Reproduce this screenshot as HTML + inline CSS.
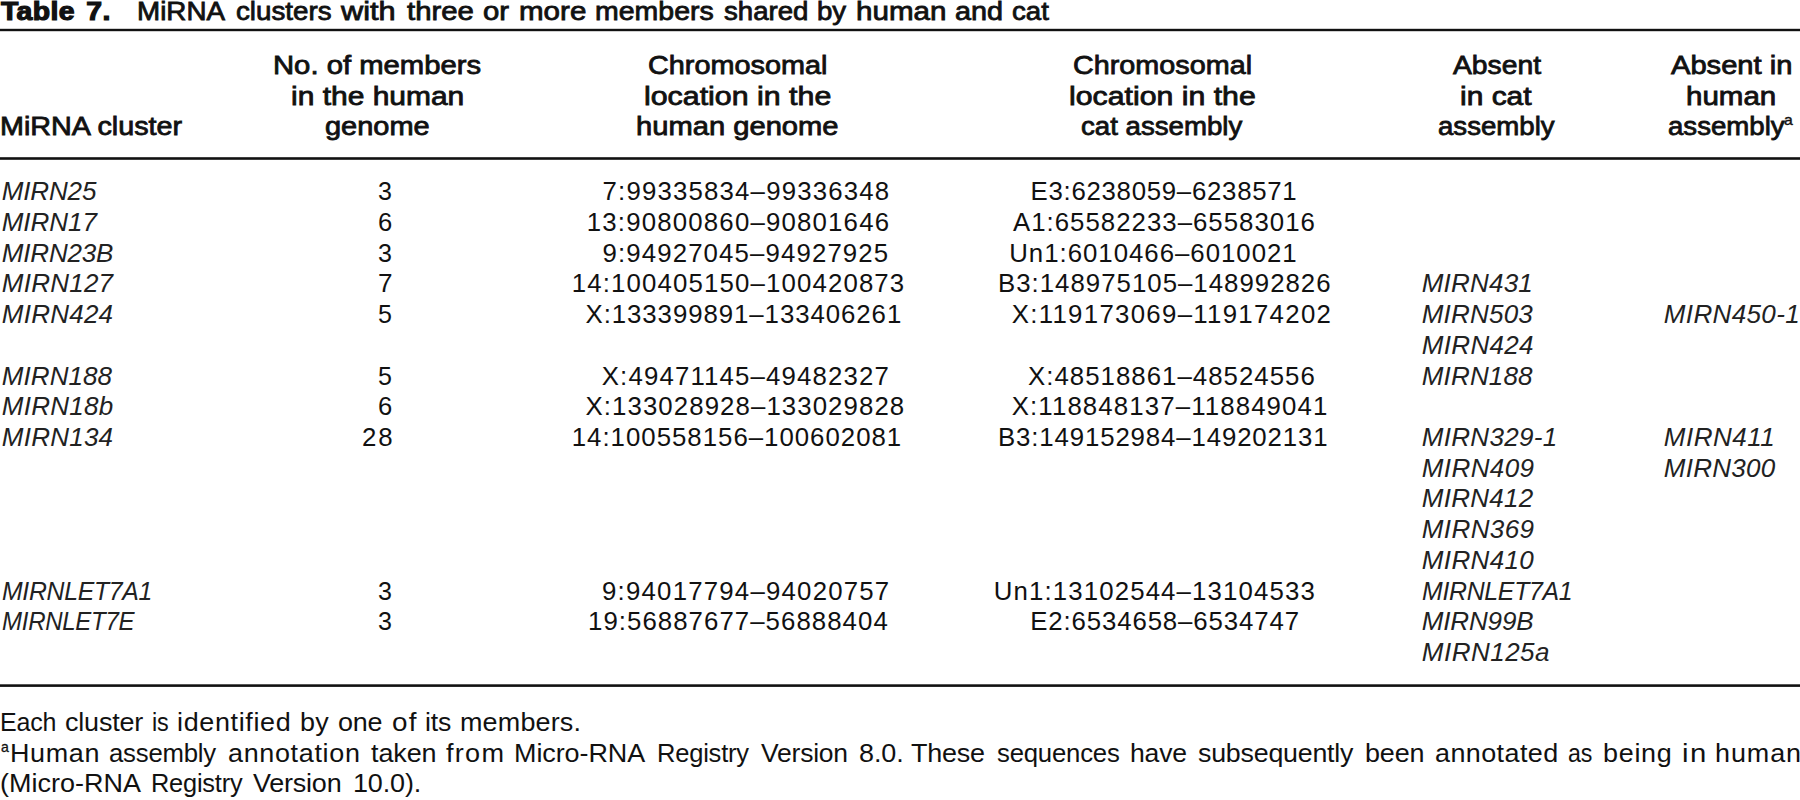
<!DOCTYPE html>
<html lang="en"><head><meta charset="utf-8"><title>Table 7</title><style>
html,body{margin:0;padding:0;background:#fff;}
body{width:1800px;height:800px;position:relative;overflow:hidden;}
.t{position:absolute;white-space:pre;font-family:"Liberation Sans",sans-serif;font-size:25.8px;line-height:30px;color:#111;transform-origin:0 0;}
.r{font-weight:400}.i{font-style:italic;font-size:26px;color:#222}.b{font-weight:400;-webkit-text-stroke:0.8px #111}.k{font-weight:700;-webkit-text-stroke:1.2px #111}
.sb{font-weight:400;-webkit-text-stroke:0.4px #111;font-size:15px}.sr{-webkit-text-stroke:0.3px #111;font-size:15px}
svg{position:absolute;left:0;top:0}
</style></head>
<body>
<svg width="1800" height="800" viewBox="0 0 1800 800"><rect x="0" y="28.80" width="1800" height="2.40" fill="#111"/><rect x="0" y="157.20" width="1800" height="2.60" fill="#111"/><rect x="0" y="684.30" width="1800" height="2.60" fill="#111"/></svg>
<span class="t k" style="left:0.57px;top:-4px;letter-spacing:0.328px;word-spacing:3.00px;transform:translateY(-0.40px) scaleX(1.1000)">Table 7.</span>
<span class="t b" style="left:137.42px;top:-4px;transform:translateY(-0.40px) scaleX(1.0770)">MiRNA</span>
<span class="t b" style="left:235.89px;top:-4px;transform:translateY(-0.40px) scaleX(1.0743)">clusters</span>
<span class="t b" style="left:341.47px;top:-4px;transform:translateY(-0.40px) scaleX(1.1900)">with</span>
<span class="t b" style="left:406.70px;top:-4px;transform:translateY(-0.40px) scaleX(1.1379)">three</span>
<span class="t b" style="left:483.15px;top:-4px;transform:translateY(-0.40px) scaleX(1.1371)">or</span>
<span class="t b" style="left:518.57px;top:-4px;transform:translateY(-0.40px) scaleX(1.1454)">more</span>
<span class="t b" style="left:594.62px;top:-4px;transform:translateY(-0.40px) scaleX(1.1045)">members</span>
<span class="t b" style="left:724.13px;top:-4px;transform:translateY(-0.40px) scaleX(1.0706)">shared</span>
<span class="t b" style="left:817.03px;top:-4px;transform:translateY(-0.40px) scaleX(1.0700)">by</span>
<span class="t b" style="left:856.08px;top:-4px;transform:translateY(-0.40px) scaleX(1.1461)">human</span>
<span class="t b" style="left:955.16px;top:-4px;transform:translateY(-0.40px) scaleX(1.1171)">and</span>
<span class="t b" style="left:1012.49px;top:-4px;transform:translateY(-0.40px) scaleX(1.0700)">cat</span>
<span class="t b" style="left:0.05px;top:111px;transform:translateY(0.20px) scaleX(1.1146)">MiRNA cluster</span>
<span class="t b" style="left:272.52px;top:50px;transform:translateY(0.10px) scaleX(1.1338)">No. of members</span>
<span class="t b" style="left:290.55px;top:81px;transform:translateY(-0.25px) scaleX(1.1618)">in the human</span>
<span class="t b" style="left:324.91px;top:111px;transform:translateY(0.20px) scaleX(1.1226)">genome</span>
<span class="t b" style="left:648.38px;top:50px;transform:translateY(0.10px) scaleX(1.1169)">Chromosomal</span>
<span class="t b" style="left:644.03px;top:81px;transform:translateY(-0.25px) scaleX(1.1765)">location in the</span>
<span class="t b" style="left:636.31px;top:111px;transform:translateY(0.20px) scaleX(1.1299)">human genome</span>
<span class="t b" style="left:1073.13px;top:50px;transform:translateY(0.10px) scaleX(1.1153)">Chromosomal</span>
<span class="t b" style="left:1068.53px;top:81px;transform:translateY(-0.25px) scaleX(1.1733)">location in the</span>
<span class="t b" style="left:1081.20px;top:111px;transform:translateY(0.20px) scaleX(1.0715)">cat assembly</span>
<span class="t b" style="left:1453.05px;top:50px;transform:translateY(0.10px) scaleX(1.0957)">Absent</span>
<span class="t b" style="left:1460.30px;top:81px;transform:translateY(-0.25px) scaleX(1.1612)">in cat</span>
<span class="t b" style="left:1437.64px;top:111px;transform:translateY(0.20px) scaleX(1.0700)">assembly</span>
<span class="t b" style="left:1671.31px;top:50px;transform:translateY(0.10px) scaleX(1.1288)">Absent in</span>
<span class="t b" style="left:1686.28px;top:81px;transform:translateY(-0.25px) scaleX(1.1447)">human</span>
<span class="t b" style="left:1667.52px;top:111px;transform:translateY(0.20px) scaleX(1.0700)">assembly</span>
<span class="t i" style="left:1.75px;top:176px;letter-spacing:-0.150px;transform:translateY(0.20px)">MIRN25</span>
<span class="t i" style="left:1.75px;top:207px;letter-spacing:-0.050px;transform:translateY(-0.08px)">MIRN17</span>
<span class="t i" style="left:1.75px;top:238px;letter-spacing:-0.167px;transform:translateY(-0.36px)">MIRN23B</span>
<span class="t i" style="left:1.75px;top:268px;letter-spacing:0.250px;transform:translateY(0.36px)">MIRN127</span>
<span class="t i" style="left:1.75px;top:299px;letter-spacing:0.250px;transform:translateY(0.08px)">MIRN424</span>
<span class="t i" style="left:1.75px;top:361px;letter-spacing:0.083px;transform:translateY(-0.48px)">MIRN188</span>
<span class="t i" style="left:1.75px;top:391px;letter-spacing:0.292px;transform:translateY(0.24px)">MIRN18b</span>
<span class="t i" style="left:1.75px;top:422px;letter-spacing:0.250px;transform:translateY(-0.04px)">MIRN134</span>
<span class="t i" style="left:1.79px;top:576px;letter-spacing:-0.300px;transform:translateY(-0.44px) scaleX(0.9528)">MIRNLET7A1</span>
<span class="t i" style="left:1.81px;top:606px;letter-spacing:-0.300px;transform:translateY(0.28px) scaleX(0.9240)">MIRNLET7E</span>
<span class="t r" style="left:378.33px;top:176px;transform:translateY(0.20px) scaleX(0.9714)">3</span>
<span class="t r" style="left:378.06px;top:207px;transform:translateY(-0.08px) scaleX(0.9917)">6</span>
<span class="t r" style="left:378.33px;top:238px;transform:translateY(-0.36px) scaleX(0.9714)">3</span>
<span class="t r" style="left:378.03px;top:268px;transform:translateY(0.36px) scaleX(1.0128)">7</span>
<span class="t r" style="left:378.33px;top:299px;transform:translateY(0.08px) scaleX(0.9714)">5</span>
<span class="t r" style="left:378.33px;top:361px;transform:translateY(-0.48px) scaleX(0.9714)">5</span>
<span class="t r" style="left:378.06px;top:391px;transform:translateY(0.24px) scaleX(0.9917)">6</span>
<span class="t r" style="left:361.75px;top:422px;letter-spacing:1.900px;transform:translateY(-0.04px) scaleX(1.0018)">28</span>
<span class="t r" style="left:378.33px;top:576px;transform:translateY(-0.44px) scaleX(0.9714)">3</span>
<span class="t r" style="left:378.33px;top:606px;transform:translateY(0.28px) scaleX(0.9714)">3</span>
<span class="t r" style="left:602.50px;top:176px;letter-spacing:1.181px;transform:translateY(0.20px)">7:99335834–99336348</span>
<span class="t r" style="left:586.75px;top:207px;letter-spacing:1.184px;transform:translateY(-0.08px)">13:90800860–90801646</span>
<span class="t r" style="left:602.50px;top:238px;letter-spacing:1.125px;transform:translateY(-0.36px)">9:94927045–94927925</span>
<span class="t r" style="left:571.75px;top:268px;letter-spacing:1.143px;transform:translateY(0.36px)">14:100405150–100420873</span>
<span class="t r" style="left:585.50px;top:299px;letter-spacing:0.938px;transform:translateY(0.08px)">X:133399891–133406261</span>
<span class="t r" style="left:601.75px;top:361px;letter-spacing:1.153px;transform:translateY(-0.48px)">X:49471145–49482327</span>
<span class="t r" style="left:585.50px;top:391px;letter-spacing:1.087px;transform:translateY(0.24px)">X:133028928–133029828</span>
<span class="t r" style="left:571.75px;top:422px;letter-spacing:1.000px;transform:translateY(-0.04px)">14:100558156–100602081</span>
<span class="t r" style="left:602.05px;top:576px;letter-spacing:1.208px;transform:translateY(-0.44px)">9:94017794–94020757</span>
<span class="t r" style="left:588.00px;top:606px;letter-spacing:1.053px;transform:translateY(0.28px)">19:56887677–56888404</span>
<span class="t r" style="left:1030.50px;top:176px;letter-spacing:0.721px;transform:translateY(0.20px)">E3:6238059–6238571</span>
<span class="t r" style="left:1013.00px;top:207px;letter-spacing:1.013px;transform:translateY(-0.08px)">A1:65582233–65583016</span>
<span class="t r" style="left:1009.25px;top:238px;letter-spacing:0.986px;transform:translateY(-0.36px)">Un1:6010466–6010021</span>
<span class="t r" style="left:998.00px;top:268px;letter-spacing:1.012px;transform:translateY(0.36px)">B3:148975105–148992826</span>
<span class="t r" style="left:1011.75px;top:299px;letter-spacing:1.300px;transform:translateY(0.08px)">X:119173069–119174202</span>
<span class="t r" style="left:1028.00px;top:361px;letter-spacing:1.028px;transform:translateY(-0.48px)">X:48518861–48524556</span>
<span class="t r" style="left:1011.75px;top:391px;letter-spacing:1.125px;transform:translateY(0.24px)">X:118848137–118849041</span>
<span class="t r" style="left:998.00px;top:422px;letter-spacing:0.869px;transform:translateY(-0.04px)">B3:149152984–149202131</span>
<span class="t r" style="left:993.80px;top:576px;letter-spacing:1.127px;transform:translateY(-0.44px)">Un1:13102544–13104533</span>
<span class="t r" style="left:1030.20px;top:606px;letter-spacing:0.876px;transform:translateY(0.28px)">E2:6534658–6534747</span>
<span class="t i" style="left:1421.75px;top:268px;letter-spacing:0.208px;transform:translateY(0.36px)">MIRN431</span>
<span class="t i" style="left:1421.75px;top:299px;letter-spacing:0.208px;transform:translateY(0.08px)">MIRN503</span>
<span class="t i" style="left:1421.75px;top:330px;letter-spacing:0.333px;transform:translateY(-0.20px)">MIRN424</span>
<span class="t i" style="left:1421.75px;top:361px;letter-spacing:0.167px;transform:translateY(-0.48px)">MIRN188</span>
<span class="t i" style="left:1421.75px;top:422px;letter-spacing:0.312px;transform:translateY(-0.04px)">MIRN329-1</span>
<span class="t i" style="left:1421.75px;top:453px;letter-spacing:0.417px;transform:translateY(-0.32px)">MIRN409</span>
<span class="t i" style="left:1421.75px;top:483px;letter-spacing:0.292px;transform:translateY(0.40px)">MIRN412</span>
<span class="t i" style="left:1421.75px;top:514px;letter-spacing:0.417px;transform:translateY(0.12px)">MIRN369</span>
<span class="t i" style="left:1421.75px;top:545px;letter-spacing:0.375px;transform:translateY(-0.16px)">MIRN410</span>
<span class="t i" style="left:1421.78px;top:576px;letter-spacing:-0.300px;transform:translateY(-0.44px) scaleX(0.9554)">MIRNLET7A1</span>
<span class="t i" style="left:1421.75px;top:606px;letter-spacing:-0.150px;transform:translateY(0.28px)">MIRN99B</span>
<span class="t i" style="left:1421.75px;top:637px;letter-spacing:0.500px;">MIRN125a</span>
<span class="t i" style="left:1663.75px;top:299px;letter-spacing:0.375px;transform:translateY(0.08px)">MIRN450-1</span>
<span class="t i" style="left:1663.75px;top:422px;letter-spacing:0.500px;transform:translateY(-0.04px)">MIRN411</span>
<span class="t i" style="left:1663.75px;top:453px;letter-spacing:0.292px;transform:translateY(-0.32px)">MIRN300</span>
<span class="t r" style="left:0.36px;top:707px;letter-spacing:-0.200px;transform:translateY(-0.30px) scaleX(0.9688)">Each</span>
<span class="t r" style="left:64.95px;top:707px;letter-spacing:-0.184px;transform:translateY(-0.30px) scaleX(1.0450)">cluster</span>
<span class="t r" style="left:152.42px;top:707px;letter-spacing:-0.200px;transform:translateY(-0.30px) scaleX(0.9051)">is</span>
<span class="t r" style="left:177.47px;top:707px;letter-spacing:0.613px;transform:translateY(-0.30px) scaleX(1.0450)">identified</span>
<span class="t r" style="left:299.87px;top:707px;letter-spacing:0.205px;transform:translateY(-0.30px) scaleX(1.0450)">by</span>
<span class="t r" style="left:338.26px;top:707px;letter-spacing:-0.200px;transform:translateY(-0.30px) scaleX(1.0443)">one</span>
<span class="t r" style="left:392.22px;top:707px;letter-spacing:1.200px;transform:translateY(-0.30px) scaleX(1.0783)">of</span>
<span class="t r" style="left:424.90px;top:707px;letter-spacing:-0.200px;transform:translateY(-0.30px) scaleX(1.0310)">its</span>
<span class="t r" style="left:459.87px;top:707px;letter-spacing:0.154px;transform:translateY(-0.30px) scaleX(1.0450)">members.</span>
<span class="t r" style="left:9.61px;top:738px;letter-spacing:0.603px;transform:translateY(-0.50px) scaleX(1.0450)">Human</span>
<span class="t r" style="left:109.00px;top:738px;letter-spacing:-0.200px;transform:translateY(-0.50px) scaleX(0.9967)">assembly</span>
<span class="t r" style="left:228.26px;top:738px;letter-spacing:0.633px;transform:translateY(-0.50px) scaleX(1.0450)">annotation</span>
<span class="t r" style="left:371.18px;top:738px;letter-spacing:-0.106px;transform:translateY(-0.50px) scaleX(1.0450)">taken</span>
<span class="t r" style="left:446.44px;top:738px;letter-spacing:1.200px;transform:translateY(-0.50px) scaleX(1.0497)">from</span>
<span class="t r" style="left:513.91px;top:738px;letter-spacing:-0.069px;transform:translateY(-0.50px) scaleX(1.0450)">Micro-RNA</span>
<span class="t r" style="left:657.32px;top:738px;letter-spacing:-0.200px;transform:translateY(-0.50px) scaleX(0.9879)">Registry</span>
<span class="t r" style="left:761.44px;top:738px;letter-spacing:-0.200px;transform:translateY(-0.50px) scaleX(1.0266)">Version</span>
<span class="t r" style="left:859.39px;top:738px;letter-spacing:-0.089px;transform:translateY(-0.50px) scaleX(1.0450)">8.0.</span>
<span class="t r" style="left:911.18px;top:738px;letter-spacing:-0.200px;transform:translateY(-0.50px) scaleX(1.0448)">These</span>
<span class="t r" style="left:996.55px;top:738px;letter-spacing:-0.200px;transform:translateY(-0.50px) scaleX(0.9967)">sequences</span>
<span class="t r" style="left:1129.90px;top:738px;letter-spacing:-0.200px;transform:translateY(-0.50px) scaleX(1.0305)">have</span>
<span class="t r" style="left:1197.52px;top:738px;letter-spacing:-0.200px;transform:translateY(-0.50px) scaleX(1.0376)">subsequently</span>
<span class="t r" style="left:1364.87px;top:738px;letter-spacing:-0.137px;transform:translateY(-0.50px) scaleX(1.0450)">been</span>
<span class="t r" style="left:1434.95px;top:738px;letter-spacing:0.390px;transform:translateY(-0.50px) scaleX(1.0450)">annotated</span>
<span class="t r" style="left:1568.30px;top:738px;letter-spacing:-0.200px;transform:translateY(-0.50px) scaleX(0.8982)">as</span>
<span class="t r" style="left:1602.87px;top:738px;letter-spacing:0.685px;transform:translateY(-0.50px) scaleX(1.0450)">being</span>
<span class="t r" style="left:1681.81px;top:738px;letter-spacing:1.200px;transform:translateY(-0.50px) scaleX(1.1365)">in</span>
<span class="t r" style="left:1714.87px;top:738px;letter-spacing:0.862px;transform:translateY(-0.50px) scaleX(1.0450)">human</span>
<span class="t r" style="left:0.43px;top:768px;letter-spacing:0.028px;transform:translateY(0.40px) scaleX(1.0450)">(Micro-RNA</span>
<span class="t r" style="left:150.54px;top:768px;letter-spacing:-0.200px;transform:translateY(0.40px) scaleX(0.9824)">Registry</span>
<span class="t r" style="left:252.74px;top:768px;letter-spacing:-0.200px;transform:translateY(0.40px) scaleX(1.0447)">Version</span>
<span class="t r" style="left:352.91px;top:768px;letter-spacing:-0.128px;transform:translateY(0.40px) scaleX(1.0450)">10.0).</span>
<span class="t sb" style="left:1784.07px;top:105px;transform:translateY(0.25px) scaleX(1.0500)">a</span>
<span class="t sr" style="left:0.83px;top:732px;transform:translateY(-0.45px) scaleX(0.9375)">a</span>
</body></html>
